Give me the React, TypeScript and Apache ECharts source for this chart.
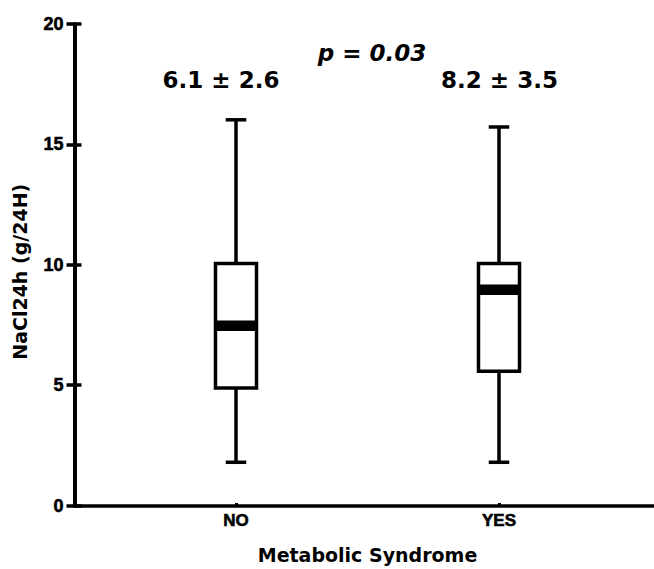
import React, { useEffect, useRef } from "react";
import * as echarts from "echarts";

const categories = ["NO", "YES"];
const whiskerLow = [1.7, 1.7];
const q1 = [4.8, 5.5];
const median = [7.4, 8.9];
const q3 = [10.0, 10.0];
const whiskerHigh = [16.0, 15.7];
const yTicks = [0, 5, 10, 15, 20];
const groupStats = ["6.1 ± 2.6", "8.2 ± 3.5"];
const pValue = "p = 0.03";
const yTitle = "NaCl24h (g/24H)";
const xTitle = "Metabolic Syndrome";

export default function App() {
  const ref = useRef<HTMLDivElement>(null);
  useEffect(() => {
    if (!ref.current) return;
    const chart = echarts.init(ref.current, undefined, { renderer: "svg" });
    const data = categories.map((_, i) => [i, whiskerLow[i], q1[i], median[i], q3[i], whiskerHigh[i]]);
    const black = "#000";
    const option: any = {
      animation: false,
      backgroundColor: "#fff",
      grid: [
        { left: 74.5, right: -2, top: 24, bottom: 63.5 },
        { left: 104.5, right: 23.5, top: 24, bottom: 63.5 },
      ],
      xAxis: [
        {
          gridIndex: 0,
          type: "value",
          min: 0,
          max: 1,
          axisLine: { show: true, lineStyle: { color: black, width: 3.5 } },
          axisTick: { show: false },
          axisLabel: { show: false },
          splitLine: { show: false },
        },
        {
          gridIndex: 1,
          type: "category",
          data: categories,
          boundaryGap: true,
          axisLine: { show: false },
          axisTick: { show: true, alignWithLabel: true, length: 4, lineStyle: { color: black, width: 3 } },
          axisLabel: {
            color: black,
            fontFamily: "Liberation Sans",
            fontWeight: "bold",
            fontSize: 17,
            margin: 9,
            textBorderColor: black,
            textBorderWidth: 0.6,
          },
          name: xTitle,
          nameLocation: "middle",
          nameGap: 42,
          nameTextStyle: { color: black, fontFamily: "DejaVu Sans", fontWeight: "bold", fontSize: 19 },
          splitLine: { show: false },
        },
      ],
      yAxis: [
        {
          gridIndex: 0,
          type: "value",
          min: yTicks[0],
          max: yTicks[yTicks.length - 1],
          interval: 5,
          axisLine: { show: true, lineStyle: { color: black, width: 4 } },
          axisTick: { show: true, length: 8, lineStyle: { color: black, width: 3.5 } },
          axisLabel: {
            color: black,
            fontFamily: "Liberation Sans",
            fontWeight: "bold",
            fontSize: 18,
            margin: 11,
            textBorderColor: black,
            textBorderWidth: 0.6,
          },
          splitLine: { show: false },
          name: yTitle,
          nameLocation: "middle",
          nameGap: 45,
          nameTextStyle: {
            color: black,
            fontFamily: "DejaVu Sans",
            fontWeight: "bold",
            fontSize: 19,
            padding: [0, 14, 0, 0],
          },
        },
        {
          gridIndex: 0,
          type: "value",
          min: yTicks[0],
          max: yTicks[yTicks.length - 1],
          interval: 5,
          position: "left",
          offset: 0,
          axisLine: { show: false },
          axisTick: { show: true, inside: true, length: 7, lineStyle: { color: black, width: 3.5 } },
          axisLabel: { show: false },
          splitLine: { show: false },
        },
        {
          gridIndex: 1,
          type: "value",
          min: yTicks[0],
          max: yTicks[yTicks.length - 1],
          show: false,
          splitLine: { show: false },
        },
      ],
      series: [
        {
          type: "custom",
          xAxisIndex: 1,
          yAxisIndex: 2,
          data,
          encode: { x: 0, y: [1, 2, 3, 4, 5] },
          renderItem: (params: any, api: any) => {
            const idx = api.value(0);
            const pLow = api.coord([idx, api.value(1)]);
            const pQ1 = api.coord([idx, api.value(2)]);
            const pMed = api.coord([idx, api.value(3)]);
            const pQ3 = api.coord([idx, api.value(4)]);
            const pHigh = api.coord([idx, api.value(5)]);
            const band = api.size([1, 0])[0];
            const bw = band * 0.156;
            const cw = band * 0.078;
            const cx = pMed[0];
            const st = { stroke: black, lineWidth: 3.5, fill: "none" };
            return {
              type: "group",
              children: [
                { type: "line", shape: { x1: cx, y1: pQ3[1], x2: cx, y2: pHigh[1] }, style: st },
                { type: "line", shape: { x1: cx, y1: pQ1[1], x2: cx, y2: pLow[1] }, style: st },
                { type: "line", shape: { x1: cx - cw / 2, y1: pHigh[1], x2: cx + cw / 2, y2: pHigh[1] }, style: st },
                { type: "line", shape: { x1: cx - cw / 2, y1: pLow[1], x2: cx + cw / 2, y2: pLow[1] }, style: st },
                {
                  type: "rect",
                  shape: { x: cx - bw / 2, y: pQ3[1], width: bw, height: pQ1[1] - pQ3[1] },
                  style: { stroke: black, lineWidth: 3.5, fill: "#fff" },
                },
                {
                  type: "line",
                  shape: { x1: cx - bw / 2, y1: pMed[1], x2: cx + bw / 2, y2: pMed[1] },
                  style: { stroke: black, lineWidth: 10.5, fill: "none" },
                },
              ],
            };
          },
        },
      ],
      graphic: [
        {
          type: "text",
          x: 372,
          y: 53,
          style: {
            text: pValue,
            fill: black,
            font: "italic bold 23px 'DejaVu Sans'",
            textAlign: "center",
            textVerticalAlign: "middle",
          },
        },
        {
          type: "text",
          x: 221,
          y: 80,
          style: {
            text: groupStats[0],
            fill: black,
            font: "bold 23px 'DejaVu Sans'",
            textAlign: "center",
            textVerticalAlign: "middle",
          },
        },
        {
          type: "text",
          x: 499.5,
          y: 80,
          style: {
            text: groupStats[1],
            fill: black,
            font: "bold 23px 'DejaVu Sans'",
            textAlign: "center",
            textVerticalAlign: "middle",
          },
        },
      ],
    };
    chart.setOption(option);
    return () => chart.dispose();
  }, []);
  return (
    <div
      ref={ref}
      style={{ position: "fixed", left: 0, top: 0, width: 654, height: 569, background: "#fff" }}
    />
  );
}
